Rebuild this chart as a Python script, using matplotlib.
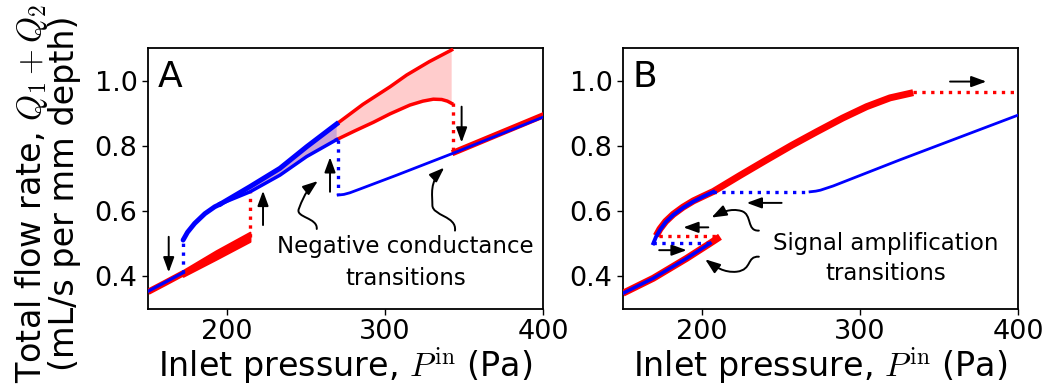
import numpy as np
import matplotlib
matplotlib.use("Agg")
import matplotlib.pyplot as plt
from matplotlib.path import Path
from matplotlib.patches import FancyArrowPatch

# ---------------- data ----------------
# Panel A
a_shared_x = [150, 161, 172.2]
a_shared_y = [0.352, 0.380, 0.409]
a_redband_x = [172.2, 193, 214.5]
a_redband_top = [0.418, 0.478, 0.535]
a_redband_bot = [0.400, 0.452, 0.507]
a_blue_jump_x = 172.2
a_blue_jump_y = [0.409, 0.511]
a_red_jump_x = 214.5
a_red_jump_y = [0.521, 0.664]
a_blue_rise_x = [172.2, 175, 179.5, 186, 192.2, 196]
a_blue_rise_y = [0.511, 0.535, 0.562, 0.592, 0.613, 0.622]
a_up_x = [196, 214.6, 233.5, 250.4, 269.4, 286, 303.2, 313.7, 328, 342.2]
a_up_y = [0.622, 0.675, 0.731, 0.797, 0.867, 0.927, 0.981, 1.017, 1.058, 1.094]
a_lo_x = [196, 214.6, 233.5, 250.4, 269.4, 281, 292.6, 303.2, 315.8, 324, 330.6, 335.9, 339.5, 342.2]
a_lo_y = [0.622, 0.659, 0.710, 0.767, 0.819, 0.846, 0.872, 0.898, 0.925, 0.937, 0.943, 0.942, 0.937, 0.930]
a_branch_split = 269.4
a_blue_drop_x = 270.0
a_blue_drop_y = [0.819, 0.649]
a_blue_thin_x = [270.4, 274, 277.8, 285, 307.4, 343, 400]
a_blue_thin_y = [0.649, 0.651, 0.656, 0.669, 0.710, 0.777, 0.888]
a_red_drop_x = 342.8
a_red_drop_y = [0.930, 0.779]
a_red_end_x = [344.3, 400]
a_red_end_y = [0.781, 0.893]

# Panel B
b_red_low_x = [150, 169.2, 190.3, 205.1, 211.4]
b_red_low_y = [0.348, 0.394, 0.455, 0.501, 0.521]
b_blue_low_x = [150, 169.2, 190.3, 205.1]
b_blue_low_y = [0.348, 0.394, 0.455, 0.501]
b_red_dot_x = [172.5, 211.4]
b_red_dot_y = 0.523
b_blue_dot_x = [169.2, 205.1]
b_blue_dot_y = 0.501
b_blue_up_x = [169.2, 171, 173.4, 177, 181.8, 188, 194.5, 201, 207.2]
b_blue_up_y = [0.501, 0.522, 0.542, 0.566, 0.588, 0.610, 0.629, 0.645, 0.659]
b_red_up_x = [171.0, 173.4, 177, 181.8, 188, 194.5, 201, 207.2, 224, 240.9, 257, 272.6, 289, 304.2, 319, 333.7]
b_red_up_y = [0.524, 0.545, 0.568, 0.590, 0.612, 0.631, 0.646, 0.660, 0.709, 0.757, 0.802, 0.843, 0.885, 0.920, 0.947, 0.963]
b_red_flat_x = [333.7, 400]
b_red_flat_y = 0.964
b_blue_flat_x = [207.2, 268.4]
b_blue_flat_y = 0.659
b_blue_thin_x = [268.4, 272, 275, 283.1, 325.3, 400]
b_blue_thin_y = [0.659, 0.661, 0.664, 0.677, 0.757, 0.894]

xticks = [200, 300, 400]
yticks = [0.4, 0.6, 0.8, 1.0]
yticklabels = ['0.4', '0.6', '0.8', '1.0']
xlim = (150, 400)
ylim = (0.3, 1.1)

RED = '#ff0000'
BLUE = '#0000ff'

plt.rcParams['font.family'] = ['DejaVu Sans']
plt.rcParams['mathtext.fontset'] = 'cm'

fig = plt.figure(figsize=(10.46, 3.9), dpi=100)
axA = fig.add_axes([0.1415, 0.208, 0.3776, 0.669])
axB = fig.add_axes([0.5956, 0.208, 0.3776, 0.669])

for ax in (axA, axB):
    ax.set_xlim(*xlim)
    ax.set_ylim(*ylim)
    ax.set_xticks(xticks)
    ax.set_yticks(yticks)
    ax.set_yticklabels(yticklabels)
    ax.tick_params(labelsize=19.5, length=4, width=1)
    ax.set_xlabel(r'Inlet pressure, $P^{\rm in}$ (Pa)', fontsize=24, labelpad=0)
    for s in ax.spines.values():
        s.set_linewidth(1.3)

def arrow(ax, tail, tip):
    ax.annotate('', xy=tip, xytext=tail,
                arrowprops=dict(arrowstyle='-|>,head_length=0.6,head_width=0.22',
                                color='k', lw=1.4, mutation_scale=15,
                                shrinkA=0, shrinkB=0))

def curly(ax, verts):
    codes = [Path.MOVETO] + [Path.CURVE4] * (len(verts) - 1)
    p = FancyArrowPatch(path=Path(verts, codes),
                        arrowstyle='-|>,head_length=0.6,head_width=0.22',
                        mutation_scale=15, color='k', lw=1.4)
    ax.add_patch(p)

dot = dict(linestyle=':', lw=2.4)

# ---------------- Panel A ----------------
ax = axA
up_x = np.array(a_up_x); up_y = np.array(a_up_y)
lo_x = np.array(a_lo_x); lo_y = np.array(a_lo_y)
m_up = up_x >= a_red_jump_x
m_lo = lo_x >= a_red_jump_x
poly_x = np.concatenate([up_x[m_up], lo_x[m_lo][::-1]])
poly_y = np.concatenate([up_y[m_up], lo_y[m_lo][::-1]])
ax.fill(poly_x, poly_y, color=RED, alpha=0.2, lw=0, zorder=1)
m_up_b = up_x <= a_branch_split
m_lo_b = lo_x <= a_branch_split
poly_x = np.concatenate([up_x[m_up_b], lo_x[m_lo_b][::-1]])
poly_y = np.concatenate([up_y[m_up_b], lo_y[m_lo_b][::-1]])
ax.fill(poly_x, poly_y, color=BLUE, alpha=0.2, lw=0, zorder=1)

ax.plot(a_shared_x, a_shared_y, color=RED, lw=4.5, zorder=3, solid_capstyle='butt')
ax.fill_between(a_redband_x, a_redband_bot, a_redband_top, color=RED, lw=1.5, zorder=3)
ax.plot(a_shared_x, np.array(a_shared_y) + 0.002, color=BLUE, lw=2.3, zorder=4)
ax.plot([a_blue_jump_x] * 2, a_blue_jump_y, color=BLUE, zorder=4, **dot)
ax.plot([a_red_jump_x] * 2, a_red_jump_y, color=RED, zorder=3, **dot)
ax.plot(a_blue_rise_x, a_blue_rise_y, color=BLUE, lw=3.5, zorder=4, solid_capstyle='round')
ax.plot(up_x[up_x >= a_branch_split], up_y[up_x >= a_branch_split], color=RED, lw=2.5, zorder=3)
ax.plot(lo_x[lo_x >= a_branch_split], lo_y[lo_x >= a_branch_split], color=RED, lw=2.5, zorder=3)
ax.plot(up_x[m_up_b], up_y[m_up_b], color=BLUE, lw=3.6, zorder=4)
ax.plot(lo_x[m_lo_b], lo_y[m_lo_b], color=BLUE, lw=2.5, zorder=4)
ax.plot([a_blue_drop_x] * 2, a_blue_drop_y, color=BLUE, zorder=4, **dot)
ax.plot(a_blue_thin_x, a_blue_thin_y, color=BLUE, lw=2.0, zorder=4)
ax.plot([a_red_drop_x] * 2, a_red_drop_y, color=RED, zorder=3, **dot)
ax.plot(a_red_end_x, a_red_end_y, color=RED, lw=4.5, zorder=3)

arrow(ax, (163.1, 0.521), (163.1, 0.412))
arrow(ax, (222.8, 0.557), (222.8, 0.662))
arrow(ax, (265.2, 0.659), (265.2, 0.765))
arrow(ax, (348.5, 0.920), (348.5, 0.810))
curly(ax, [(256.8, 0.545), (257.5, 0.580), (243, 0.580), (245.5, 0.607),
           (247.5, 0.630), (249, 0.660), (257.5, 0.692)])
curly(ax, [(344.3, 0.540), (345.5, 0.585), (330, 0.585), (330.0, 0.618),
           (330.0, 0.650), (328, 0.690), (337.5, 0.733)])
ax.text(313, 0.490, 'Negative conductance', fontsize=16.5, ha='center', va='center')
ax.text(313, 0.394, 'transitions', fontsize=16.5, ha='center', va='center')
ax.text(0.025, 0.955, 'A', transform=ax.transAxes, fontsize=26, ha='left', va='top')

# ---------------- Panel B ----------------
ax = axB
ax.plot(b_red_low_x, b_red_low_y, color=RED, lw=5, zorder=3, solid_capstyle='butt')
ax.plot(b_blue_low_x, b_blue_low_y, color=BLUE, lw=2.5, zorder=4)
ax.plot(b_red_dot_x, [b_red_dot_y] * 2, color=RED, zorder=3, **dot)
ax.plot(b_blue_dot_x, [b_blue_dot_y] * 2, color=BLUE, zorder=4, **dot)
ax.plot(b_red_up_x, b_red_up_y, color=RED, lw=5, zorder=3, solid_capstyle='butt')
ax.plot(b_blue_up_x, b_blue_up_y, color=BLUE, lw=2.8, zorder=4)
ax.plot(b_red_flat_x, [b_red_flat_y] * 2, color=RED, zorder=3, **dot)
ax.plot(b_blue_flat_x, [b_blue_flat_y] * 2, color=BLUE, zorder=4, **dot)
ax.plot(b_blue_thin_x, b_blue_thin_y, color=BLUE, lw=2.0, zorder=4)

arrow(ax, (357, 0.997), (380, 0.997))
arrow(ax, (250.4, 0.625), (228.3, 0.625))
arrow(ax, (204, 0.550), (188.2, 0.550))
arrow(ax, (172.9, 0.480), (190.3, 0.480))
curly(ax, [(236, 0.540), (228, 0.538), (232, 0.590), (225, 0.600),
           (218, 0.610), (212, 0.595), (206, 0.580)])
curly(ax, [(236, 0.460), (228, 0.462), (232, 0.420), (222, 0.414),
           (214, 0.410), (208, 0.430), (202, 0.452)])
ax.text(316, 0.501, 'Signal amplification', fontsize=16.5, ha='center', va='center')
ax.text(316, 0.409, 'transitions', fontsize=16.5, ha='center', va='center')
ax.text(0.025, 0.955, 'B', transform=ax.transAxes, fontsize=26, ha='left', va='top')

fig.text(0.045, 0.505, 'Total flow rate, $Q_1 + Q_2$\n(mL/s per mm depth)',
         rotation=90, fontsize=24, ha='center', va='center', multialignment='center',
         linespacing=0.95)

fig.savefig('out.png', dpi=100)
